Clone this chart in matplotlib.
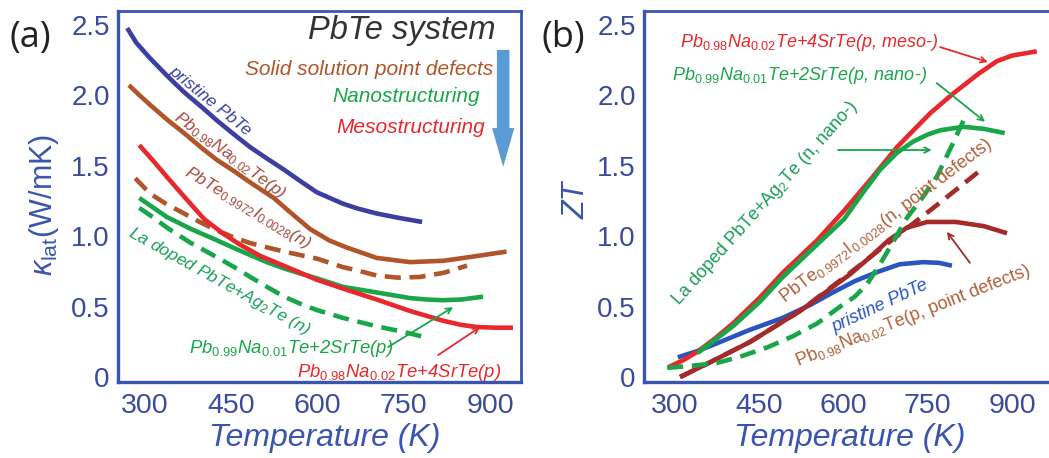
import matplotlib
matplotlib.use("Agg")
import matplotlib.pyplot as plt

plt.rcParams['font.family'] = ['Liberation Sans', 'DejaVu Sans']
plt.rcParams['mathtext.fontset'] = 'custom'
plt.rcParams['mathtext.rm'] = 'Liberation Sans'
plt.rcParams['mathtext.it'] = 'Liberation Sans:italic'
plt.rcParams['mathtext.bf'] = 'Liberation Sans:bold'

# ---------------- data: panel (a) lattice thermal conductivity ----------------
T_pristine_a = [269, 285, 309, 340, 368, 400, 425, 455, 483, 512, 542, 570, 599, 644, 670, 703, 740, 782]
k_pristine_a = [2.475, 2.37, 2.26, 2.13, 2.02, 1.91, 1.82, 1.72, 1.63, 1.55, 1.47, 1.39, 1.31, 1.23, 1.195, 1.16, 1.13, 1.10]

T_na_a = [272, 290, 309, 340, 368, 400, 425, 455, 483, 524, 555, 587, 620, 650, 703, 761, 820, 880, 929]
k_na_a = [2.07, 2.00, 1.93, 1.82, 1.73, 1.62, 1.54, 1.46, 1.38, 1.27, 1.16, 1.05, 0.97, 0.92, 0.845, 0.815, 0.825, 0.86, 0.89]

T_iod_a = [283, 309, 340, 368, 395, 425, 455, 483, 512, 542, 570, 599, 644, 675, 703, 740, 778, 820, 860]
k_iod_a = [1.41, 1.30, 1.22, 1.16, 1.10, 1.04, 0.99, 0.95, 0.92, 0.89, 0.865, 0.84, 0.78, 0.75, 0.72, 0.705, 0.71, 0.74, 0.79]

T_meso_a = [290, 315, 338, 368, 403, 435, 465, 500, 541, 570, 599, 650, 703, 760, 818, 850, 877, 910, 940]
k_meso_a = [1.645, 1.53, 1.42, 1.28, 1.12, 1.02, 0.94, 0.86, 0.79, 0.74, 0.69, 0.62, 0.55, 0.47, 0.40, 0.37, 0.355, 0.35, 0.35]

T_nano_a = [290, 315, 338, 380, 425, 455, 483, 512, 542, 570, 599, 644, 703, 761, 790, 818, 850, 888]
k_nano_a = [1.27, 1.20, 1.135, 1.05, 0.97, 0.915, 0.865, 0.815, 0.77, 0.735, 0.70, 0.64, 0.60, 0.56, 0.55, 0.545, 0.55, 0.57]

T_la_a = [290, 315, 338, 380, 425, 455, 483, 512, 542, 570, 599, 644, 703, 750, 790]
k_la_a = [1.20, 1.13, 1.06, 0.95, 0.85, 0.78, 0.71, 0.64, 0.57, 0.52, 0.475, 0.42, 0.36, 0.32, 0.28]

# ---------------- data: panel (b) ZT ----------------
T_meso_b = [288, 315, 340, 370, 403, 450, 492, 553, 601, 650, 695, 754, 795, 840, 873, 900, 944]
zt_meso_b = [0.07, 0.12, 0.18, 0.27, 0.38, 0.56, 0.74, 0.97, 1.18, 1.41, 1.63, 1.87, 2.01, 2.15, 2.24, 2.28, 2.31]

T_nano_b = [340, 370, 403, 450, 492, 553, 601, 635, 665, 695, 724, 750, 772, 813, 850, 887]
zt_nano_b = [0.17, 0.26, 0.36, 0.53, 0.71, 0.94, 1.12, 1.31, 1.47, 1.59, 1.67, 1.72, 1.75, 1.775, 1.76, 1.73]

T_pristine_b = [305, 340, 375, 430, 492, 540, 581, 620, 660, 700, 742, 770, 793]
zt_pristine_b = [0.14, 0.185, 0.24, 0.33, 0.42, 0.51, 0.60, 0.68, 0.745, 0.80, 0.815, 0.81, 0.79]

T_na_b = [309, 360, 434, 523, 612, 650, 680, 713, 749, 800, 850, 891]
zt_na_b = [0.0, 0.10, 0.25, 0.47, 0.73, 0.86, 0.97, 1.06, 1.10, 1.10, 1.07, 1.02]

T_iod_b = [309, 360, 434, 523, 612, 695, 760, 848]
zt_iod_b = [0.0, 0.10, 0.25, 0.47, 0.74, 1.00, 1.20, 1.48]

T_la_b = [286, 330, 375, 420, 464, 510, 553, 594, 620, 642, 665, 690, 713, 740, 766, 795, 816]
zt_la_b = [0.065, 0.08, 0.10, 0.15, 0.21, 0.29, 0.38, 0.50, 0.57, 0.66, 0.80, 0.97, 1.13, 1.27, 1.42, 1.66, 1.84]

x_ticks = [300, 450, 600, 750, 900]
x_ticklabels = ['300', '450', '600', '750', '900']
y_ticks = [0, 0.5, 1.0, 1.5, 2.0, 2.5]
y_ticklabels = ['0', '0.5', '1.0', '1.5', '2.0', '2.5']

# ---------------- colours ----------------
C_BLUE_A = '#3c3fa0'
C_BLUE_B = '#2a55c0'
C_BROWN = '#b0552a'
C_MAROON = '#a52a2a'
C_RED = '#e8282c'
C_GREEN = '#19a64a'
C_TXT_GREEN = '#1a9e5a'
C_TXT_BROWN = '#a84a40'
C_AXIS = '#3a55b0'
C_TICK = '#3a4a9c'

W, H = 1049, 458
fig = plt.figure(figsize=(W / 100, H / 100), dpi=100)

axA = fig.add_axes([118 / W, 1 - 382 / H, (521 - 118) / W, (382 - 11) / H])
axB = fig.add_axes([644 / W, 1 - 382 / H, (1049 - 644) / W, (382 - 11) / H])

LW = 3.3
DASH = (0, (3.5, 1.9))

for ax, xl in ((axA, (253, 954)), (axB, (244.8, 965.8))):
    ax.set_xlim(*xl)
    ax.set_ylim(-0.035, 2.596)
    ax.set_xticks(x_ticks)
    ax.set_xticklabels(x_ticklabels)
    ax.set_yticks(y_ticks)
    ax.set_yticklabels(y_ticklabels)
    ax.tick_params(length=0, labelsize=20, colors=C_TICK, pad=6)
    ax.tick_params(axis='x', labelsize=20.5, pad=8)
    for s in ax.spines.values():
        s.set_color(C_AXIS)
        s.set_linewidth(2.0)
    ax.spines['left'].set_linewidth(2.4)
    ax.spines['bottom'].set_linewidth(2.4)
axB.spines['right'].set_visible(False)

kw_line = dict(lw=LW, solid_capstyle='butt', solid_joinstyle='round')
kw_dash = dict(lw=LW, ls=DASH, dash_capstyle='butt', dash_joinstyle='round')

# ---------------- panel (a) curves ----------------
axA.plot(T_pristine_a, k_pristine_a, color=C_BLUE_A, **kw_line)
axA.plot(T_na_a, k_na_a, color=C_BROWN, **kw_line)
axA.plot(T_iod_a, k_iod_a, color=C_BROWN, **kw_dash)
axA.plot(T_nano_a, k_nano_a, color=C_GREEN, **kw_line)
axA.plot(T_la_a, k_la_a, color=C_GREEN, **kw_dash)
axA.plot(T_meso_a, k_meso_a, color=C_RED, **kw_line)

# panel (a) texts
axA.text(909, 2.46, 'PbTe system', ha='right', va='center', fontsize=23.5,
         style='italic', color='#333333')
axA.annotate('', xy=(923, 1.49), xytext=(923, 2.32),
             arrowprops=dict(arrowstyle='simple,head_length=2.8,head_width=1.6,tail_width=0.9',
                             color='#5b9bd5', lw=0, shrinkA=0, shrinkB=0))
axA.text(905, 2.18, 'Solid solution point defects', ha='right', va='center',
         fontsize=15, style='italic', color=C_BROWN)
axA.text(883, 1.99, 'Nanostructuring', ha='right', va='center',
         fontsize=15, style='italic', color=C_GREEN)
axA.text(891, 1.77, 'Mesostructuring', ha='right', va='center',
         fontsize=15, style='italic', color=C_RED)

axA.text(413, 1.96, 'pristine PbTe', rotation=-39, rotation_mode='anchor',
         ha='center', va='center', fontsize=12.5, style='italic', color=C_BLUE_A)
axA.text(448, 1.574, r'Pb$_{\mathit{0.98}}$Na$_{\mathit{0.02}}$Te(p)', rotation=-36.5,
         rotation_mode='anchor', ha='center', va='center', fontsize=12.5,
         style='italic', color=C_TXT_BROWN)
axA.text(479, 1.20, r'PbTe$_{\mathit{0.9972}}$I$_{\mathit{0.0028}}$(n)', rotation=-31,
         rotation_mode='anchor', ha='center', va='center', fontsize=12.5,
         style='italic', color=C_TXT_BROWN)
axA.text(429, 0.68, r'La doped PbTe+Ag$_{\mathit{2}}$Te (n)', rotation=-29,
         rotation_mode='anchor', ha='center', va='center', fontsize=12.5,
         style='italic', color=C_TXT_GREEN)
axA.text(554, 0.20, r'Pb$_{\mathit{0.99}}$Na$_{\mathit{0.01}}$Te+2SrTe(p)', ha='center',
         va='center', fontsize=13.3, style='italic', color=C_GREEN)
axA.annotate('', xy=(836, 0.496), xytext=(723, 0.213),
             arrowprops=dict(arrowstyle='->', color=C_GREEN, lw=1.3, shrinkA=0, shrinkB=0))
axA.text(742, 0.03, r'Pb$_{\mathit{0.98}}$Na$_{\mathit{0.02}}$Te+4SrTe(p)', ha='center',
         va='center', fontsize=13.3, style='italic', color=C_RED)
axA.annotate('', xy=(883, 0.355), xytext=(810, 0.156),
             arrowprops=dict(arrowstyle='->', color=C_RED, lw=1.3, shrinkA=0, shrinkB=0))

# ---------------- panel (b) curves ----------------
axB.plot(T_pristine_b, zt_pristine_b, color=C_BLUE_B, **kw_line)
axB.plot(T_na_b, zt_na_b, color=C_MAROON, **kw_line)
axB.plot(T_iod_b, zt_iod_b, color=C_MAROON, **kw_dash)
axB.plot(T_meso_b, zt_meso_b, color=C_RED, **kw_line)
axB.plot(T_nano_b, zt_nano_b, color=C_GREEN, **kw_line)
axB.plot(T_la_b, zt_la_b, color=C_GREEN, **kw_dash)

axB.text(540, 2.376, r'Pb$_{\mathit{0.98}}$Na$_{\mathit{0.02}}$Te+4SrTe(p, meso-)',
         ha='center', va='center', fontsize=13, style='italic', color=C_RED)
axB.annotate('', xy=(857, 2.234), xytext=(772, 2.34),
             arrowprops=dict(arrowstyle='->', color=C_RED, lw=1.3, shrinkA=0, shrinkB=0))
axB.text(522, 2.14, r'Pb$_{\mathit{0.99}}$Na$_{\mathit{0.01}}$Te+2SrTe(p, nano-)',
         ha='center', va='center', fontsize=13, style='italic', color=C_GREEN)
axB.annotate('', xy=(852, 1.81), xytext=(766, 2.085),
             arrowprops=dict(arrowstyle='->', color=C_GREEN, lw=1.3, shrinkA=0, shrinkB=0))
axB.text(460, 1.23, r'La doped PbTe+Ag$_2$Te (n, nano-)', rotation=48,
         rotation_mode='anchor', ha='center', va='center', fontsize=13, color=C_TXT_GREEN)
axB.annotate('', xy=(757, 1.61), xytext=(590, 1.61),
             arrowprops=dict(arrowstyle='->', color=C_GREEN, lw=1.3, shrinkA=0, shrinkB=0))
axB.text(676, 1.106, r'PbTe$_{0.9972}$I$_{0.0028}$(n, point defects)', rotation=37,
         rotation_mode='anchor', ha='center', va='center', fontsize=13, color='#b0603a')
axB.text(665, 0.50, 'pristine PbTe', rotation=25, rotation_mode='anchor',
         ha='center', va='center', fontsize=13, style='italic', color=C_BLUE_B)
axB.text(724, 0.43, r'Pb$_{0.98}$Na$_{0.02}$Te(p, point defects)', rotation=21.5,
         rotation_mode='anchor', ha='center', va='center', fontsize=13, color='#b0603a')
axB.annotate('', xy=(784, 1.03), xytext=(825, 0.81),
             arrowprops=dict(arrowstyle='->', color=C_MAROON, lw=1.3, shrinkA=0, shrinkB=0))

# ---------------- axis labels and panel letters ----------------
fig.text(44 / W, 1 - 205 / H, r'$\kappa_{\mathrm{lat}}$(W/mK)', rotation=90, ha='center',
         va='center', fontsize=22, color=C_AXIS)
fig.text(577 / W, 1 - 200 / H, 'ZT', rotation=90, ha='center', va='center',
         fontsize=22, style='italic', color=C_AXIS)
fig.text(325 / W, 1 - 438 / H, 'Temperature (K)', ha='center', va='center',
         fontsize=23, style='italic', color=C_AXIS)
fig.text(850 / W, 1 - 438 / H, 'Temperature (K)', ha='center', va='center',
         fontsize=23, style='italic', color=C_AXIS)
fig.text(30 / W, 1 - 38 / H, '(a)', ha='center', va='center', fontsize=26,
         family=['Open Sans', 'DejaVu Sans'], color='#222222')
fig.text(563 / W, 1 - 38 / H, '(b)', ha='center', va='center', fontsize=26,
         family=['Open Sans', 'DejaVu Sans'], color='#222222')

fig.savefig('out.png', dpi=100)
